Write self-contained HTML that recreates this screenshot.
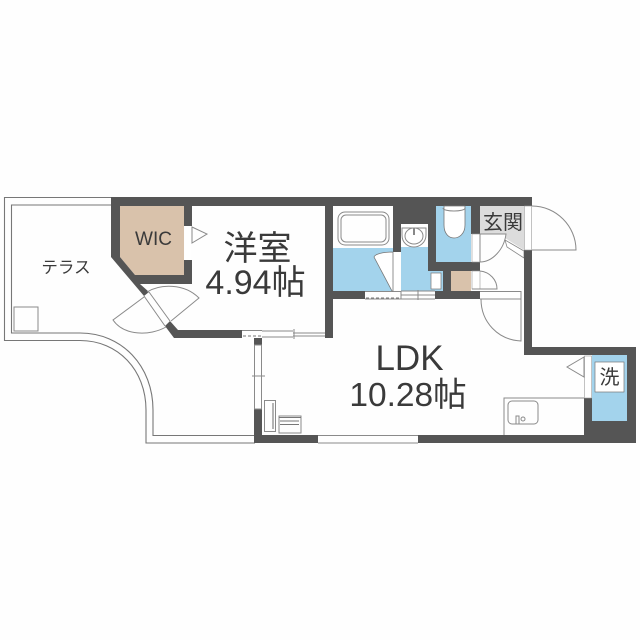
<!DOCTYPE html>
<html><head><meta charset="utf-8"><style>
html,body{margin:0;padding:0;background:#fff}
svg{display:block;filter:blur(.35px)}
text{font-family:"Liberation Sans","Noto Sans CJK JP",sans-serif;fill:#3a3a3a}
.l{fill:none;stroke:#8a8a8a;stroke-width:1}
.t{fill:none;stroke:#777;stroke-width:1.1}
.w{fill:#555}
</style></head><body>
<svg width="640" height="640" viewBox="0 0 640 640" xmlns="http://www.w3.org/2000/svg">
<rect width="640" height="640" fill="#fefefe"/>
<!-- terrace -->
<path class="t" d="M111 197.500H4.500V340.500H80C118 340.500 146 370 146 410V443H255"/>
<path class="t" d="M111 205H11.500V333H80C122 333 153 366 153 410V435.500H255"/>
<rect class="l" x="14" y="307" width="24" height="24"/>
<!-- room fills -->
<polygon points="120,206 184,206 184,275 135,275 120,257" fill="#d9c2ab"/>
<rect x="333" y="248" width="60" height="43" fill="#a3d3ec"/>
<rect x="401" y="224" width="27" height="67" fill="#a3d3ec"/>
<rect x="401" y="224" width="27" height="23" fill="#fff"/>
<rect x="436" y="206" width="35" height="56" fill="#a3d3ec"/>
<rect x="428" y="270" width="15" height="21" fill="#a3d3ec"/>
<rect x="431" y="273" width="10" height="16" fill="#fff" stroke="#777" stroke-width=".7"/>
<rect x="451" y="271" width="20" height="20" fill="#d9c2ab"/>
<rect x="592" y="355" width="35" height="66" fill="#a3d3ec"/>
<rect x="595" y="362" width="29" height="30" fill="#fff" stroke="#777" stroke-width=".7"/>
<polygon points="480,206 524,206 524,250 505,238 506,234 480,234" fill="#dcdcdc"/>
<polygon points="505,240 524,251 524,258 507,247" fill="#fff" stroke="#888" stroke-width=".8"/>
<!-- walls -->
<rect class="w" x="111" y="197" width="421" height="9"/>
<polygon class="w" points="111,197 120,197 120,257 135,275 184,275 184,260 192,260 192,284 140,284 149,292 144,296 111,257"/>
<rect class="w" x="184" y="197" width="8" height="29"/>
<polygon class="w" points="165,326 170,321 178,330 242,330 242,338 174,338"/>
<rect class="w" x="325" y="197" width="8" height="141"/>
<rect class="w" x="333" y="291" width="32" height="8"/>
<rect class="w" x="393" y="206" width="43" height="18"/>
<rect class="w" x="393" y="224" width="8" height="28"/>
<rect class="w" x="428" y="224" width="8" height="46"/>
<rect class="w" x="428" y="262" width="52" height="9"/>
<rect class="w" x="443" y="262" width="8" height="37"/>
<rect class="w" x="435" y="291" width="45" height="8"/>
<rect class="w" x="471" y="206" width="9" height="28"/>
<rect class="w" x="254" y="338" width="8" height="7"/>
<rect class="w" x="254" y="409" width="8" height="34"/>
<rect class="w" x="254" y="435" width="64" height="8"/>
<rect class="w" x="524" y="250" width="8" height="105"/>
<rect class="w" x="524" y="347" width="112" height="8"/>
<rect class="w" x="627" y="347" width="9" height="96"/>
<rect class="w" x="418" y="435" width="218" height="8"/>
<rect class="w" x="584" y="398" width="8" height="37"/>
<rect class="w" x="584" y="421" width="44" height="14"/>
<!-- windows and sliding doors -->
<path class="l" d="M318 435.500H418M318 443H418"/>
<rect class="l" x="254.500" y="345" width="7" height="64"/>
<path class="l" d="M252 376H265"/>
<path class="l" d="M242 330.500H262M262 331H293M293 333H325M262 337H293M293 336H325M294 329V339"/>
<path d="M243 336H262" stroke="#777" stroke-dasharray="3 2" fill="none"/>
<path class="l" d="M365 291.500H401V299H365"/>
<path d="M366 298H401" stroke="#777" stroke-dasharray="3 2" fill="none"/>
<path class="l" d="M401 295H435M401 299H435M401 291H435M418 290V300"/>
<path class="l" d="M480 291.500H521V299H480"/>
<!-- balcony door -->
<path class="l" d="M144 296L165 326M149 292L170 321M144 297L113 320C124 336 150 336 166 327M171 321L199 298C184 283 160 284 147 292"/>
<!-- WIC door -->
<rect x="184.500" y="226" width="7" height="34" fill="#fff"/>
<polygon class="l" points="192,227 207,234 192,243"/>
<!-- bath -->
<rect class="l" x="338" y="212" width="51" height="33" rx="7"/>
<rect class="l" x="341" y="215" width="45" height="27" rx="5"/>
<rect x="393" y="252" width="7" height="38" fill="#fff"/>
<path d="M393 252C383 252 375 254 374 257L392 291H393Z" fill="#fff" stroke="#777" stroke-width=".8"/>
<!-- sink -->
<path d="M402 228H426V235C426 243 419 247 414 247C408 247 402 243 402 235Z" fill="#fff" stroke="#8a8a8a"/>
<ellipse class="l" cx="414" cy="236" rx="9" ry="8"/>
<rect x="413" y="228" width="2" height="7" fill="#888"/>
<!-- toilet -->
<path d="M444 206V225C444 234 449 238 454 238C459 238 465 234 465 225V206Z" fill="#fff" stroke="#777" stroke-width=".8"/>
<path class="l" d="M443 208C443 212 465 212 465 208"/>
<!-- toilet door -->
<rect x="472" y="234" width="8" height="28" fill="#fff" stroke="#999" stroke-width=".6"/>
<path class="l" d="M480 234V262C492 262 504 250 506 234H480"/>
<rect x="472" y="271" width="8" height="18" fill="#fff" stroke="#999" stroke-width=".6"/>
<path class="l" d="M480 271C490 272 497 280 497 289H472"/>
<!-- entry door -->
<rect x="524.500" y="206" width="7" height="44" fill="#fff" stroke="#999" stroke-width=".6"/>
<path class="l" d="M532 206C556 206 576 226 576 250H532"/>
<!-- LDK door -->
<path class="l" d="M481 299C481 322 498 340 521 341V299"/>
<!-- laundry door -->
<rect x="584.500" y="356" width="7" height="42" fill="#fff" stroke="#999" stroke-width=".6"/>
<polygon class="l" points="584,357 567,367 584,377"/>
<!-- kitchen -->
<path class="l" d="M504 435V398H584"/>
<rect class="l" x="508" y="401" width="30" height="23" rx="4"/>
<rect class="l" x="516" y="416" width="3" height="8"/>
<circle class="l" cx="523" cy="419" r="2"/>
<!-- fridge/desk -->
<rect class="l" x="264.500" y="400.500" width="11" height="31"/>
<path class="t" d="M273 403V429"/>
<rect class="l" x="279" y="416" width="22" height="17"/>
<path class="t" d="M279 417.500H301M280 421H299M280 424.500H299"/>
<!-- labels -->
<text x="257.500" y="260" font-size="34" text-anchor="middle">洋室</text>
<text x="255.500" y="294" font-size="34" text-anchor="middle">4.94帖</text>
<text x="409.500" y="370" font-size="35" text-anchor="middle">LDK</text>
<text x="408" y="406" font-size="33.500" text-anchor="middle">10.28帖</text>
<text x="153.500" y="245" font-size="19" text-anchor="middle">WIC</text>
<text x="66" y="273" font-size="16.500" text-anchor="middle">テラス</text>
<text x="503" y="229" font-size="20" text-anchor="middle">玄関</text>
<text x="609.500" y="384" font-size="20" text-anchor="middle">洗</text>
</svg>
</body></html>
